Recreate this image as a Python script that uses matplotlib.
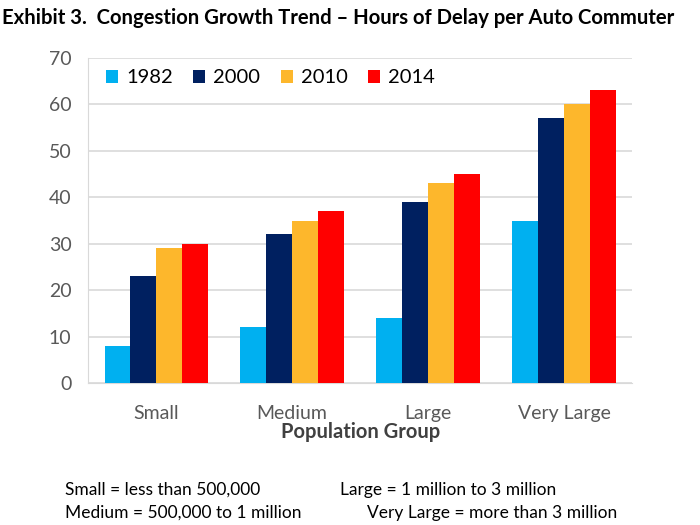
import matplotlib.pyplot as plt
import numpy as np

plt.rcParams['font.family'] = ['Lato', 'DejaVu Sans']

groups = ["Small", "Medium", "Large", "Very Large"]
years = ["1982", "2000", "2010", "2014"]
delay_1982 = [8, 12, 14, 35]
delay_2000 = [23, 32, 39, 57]
delay_2010 = [29, 35, 43, 60]
delay_2014 = [30, 37, 45, 63]
colors = ["#00B0F0", "#002060", "#FDB72C", "#FF0000"]

series = [delay_1982, delay_2000, delay_2010, delay_2014]

fig = plt.figure(figsize=(7, 5.25), dpi=100)
ax = fig.add_axes([0.126, 0.27, 0.777, 0.62])

x = np.arange(len(groups))
w = 0.19
for i, (vals, yr, c) in enumerate(zip(series, years, colors)):
    ax.bar(x + (i - 1.5) * w, vals, w, color=c, label=yr, zorder=3)

ax.set_xlim(-0.5, 3.5)
ax.set_ylim(0, 70)
ax.set_yticks(range(0, 71, 10))
ax.set_xticks(x)
ax.set_xticklabels(groups)
ax.grid(axis='y', color='#d9d9d9', linewidth=1.2, zorder=0)
for s in ['top', 'right']:
    ax.spines[s].set_visible(False)
ax.spines['left'].set_color('#d9d9d9')
ax.spines['bottom'].set_color('#d9d9d9')
ax.tick_params(length=0, labelsize=14, labelcolor='#595959')
ax.tick_params(axis='x', pad=16)
ax.tick_params(axis='y', pad=12)
ax.set_xlabel("Population Group", fontsize=14.5, fontweight='bold', color='#404040', labelpad=0)

ax.legend(loc='upper left', ncol=4, frameon=False, fontsize=14.5, handlelength=0.6,
          handleheight=0.6, handletextpad=0.4, columnspacing=1.0,
          bbox_to_anchor=(0.0, 1.02))

fig.text(0.003, 0.965, "Exhibit 3.  Congestion Growth Trend \u2013 Hours of Delay per Auto Commuter",
         fontsize=14.6, fontweight='bold', va='center', ha='left')

fig.text(0.093, 0.067, "Small = less than 500,000", fontsize=12.5, va='center')
fig.text(0.093, 0.023, "Medium = 500,000 to 1 million", fontsize=12.5, va='center')
fig.text(0.486, 0.067, "Large = 1 million to 3 million", fontsize=12.5, va='center')
fig.text(0.524, 0.023, "Very Large = more than 3 million", fontsize=12.5, va='center')

fig.savefig("out.png", dpi=100)
